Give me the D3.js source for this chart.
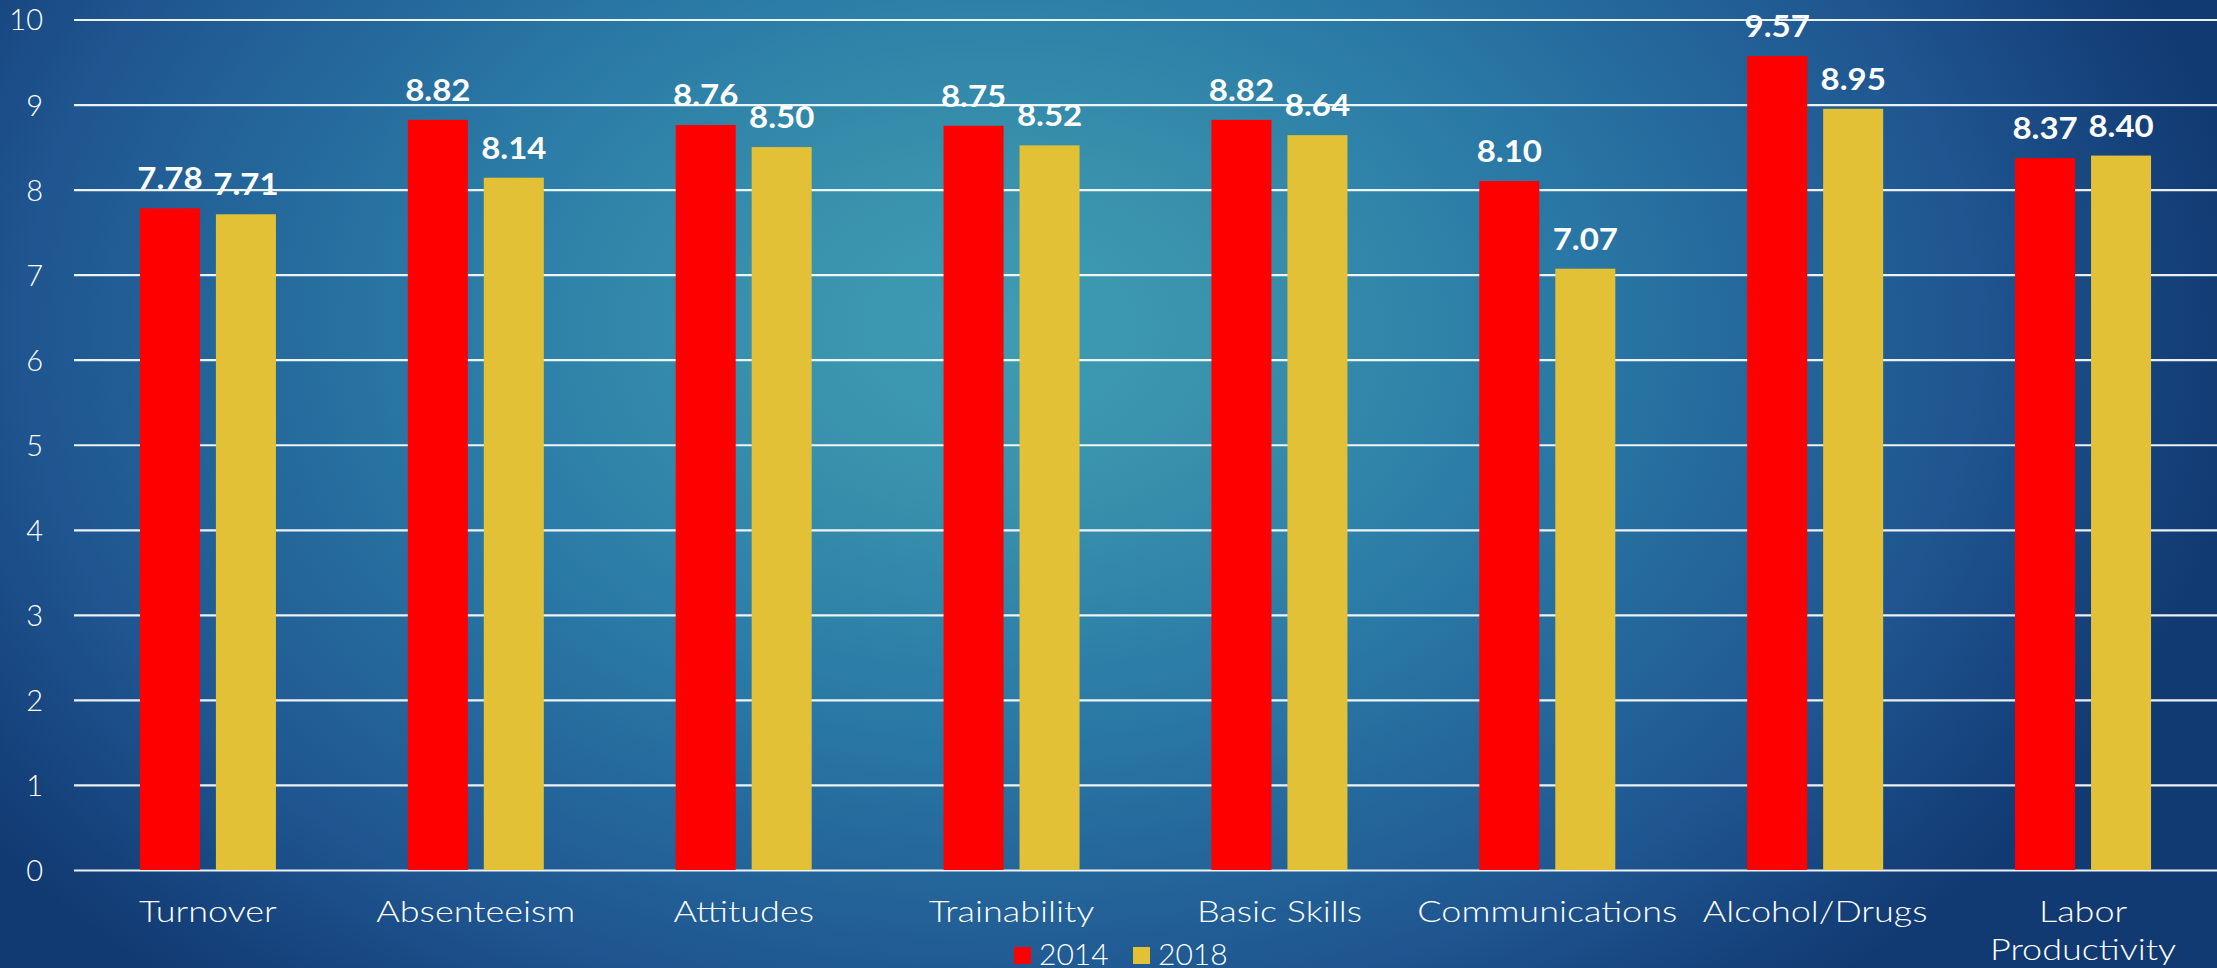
<!DOCTYPE html>
<html>
<head>
<meta charset="utf-8">
<script src="https://cdn.jsdelivr.net/npm/d3@7"></script>
<style>
html,body{margin:0;padding:0;overflow:hidden;background:#15447a;}
svg{display:block;}
</style>
</head>
<body>
<svg id="chart" width="2217" height="968"></svg>
<script>
const categories = ["Turnover","Absenteeism","Attitudes","Trainability","Basic Skills","Communications","Alcohol/Drugs","Labor Productivity"];
const seriesNames = ["2014","2018"];
const values2014 = [7.78, 8.82, 8.76, 8.75, 8.82, 8.10, 9.57, 8.37];
const values2018 = [7.71, 8.14, 8.50, 8.52, 8.64, 7.07, 8.95, 8.40];
const yTicks = [0,1,2,3,4,5,6,7,8,9,10];
const colors = ["#ff0000", "#e3c136"];

const W = 2217, H = 968;
const svg = d3.select("#chart");
const FONT = "Lato, 'Open Sans', sans-serif";

// background gradient
const defs = svg.append("defs");
const cx = 1000, cy = 330;
const rg = defs.append("radialGradient").attr("id","bg")
  .attr("gradientUnits","userSpaceOnUse")
  .attr("cx", cx).attr("cy", cy).attr("r", 1250)
  .attr("gradientTransform",`translate(${cx},${cy}) scale(1,0.7) translate(${-cx},${-cy})`);
[[0,"#3e9cb3"],[0.17,"#3a93ad"],[0.44,"#2a7aa6"],[0.78,"#1f5590"],[0.95,"#143f78"],[1,"#123a72"]]
  .forEach(([o,c])=>rg.append("stop").attr("offset",o).attr("stop-color",c));
svg.append("rect").attr("width",W).attr("height",H).attr("fill","url(#bg)");

const margin = {left:74, right:0, top:19.5, bottom:98};
const x0 = d3.scaleBand().domain(categories).range([margin.left, W - margin.right]).padding(0);
const x1 = d3.scaleBand().domain(seriesNames).range([0, x0.bandwidth()]).paddingInner(0.21).paddingOuter(0.868);
const y = d3.scaleLinear().domain([0,10]).range([H - margin.bottom, margin.top]);

// gridlines
const grid = svg.append("g").attr("transform",`translate(${margin.left},0)`)
  .call(d3.axisLeft(y).tickValues(yTicks).tickSize(-(W - margin.left - margin.right)).tickFormat(""));
grid.select(".domain").remove();
grid.selectAll("line").attr("stroke","#ffffff").attr("stroke-width",2.2).attr("stroke-opacity",0.92);

// y tick labels
const yAxis = svg.append("g").attr("transform",`translate(43,0)`)
  .call(d3.axisLeft(y).tickValues(yTicks).tickSize(0).tickPadding(0));
yAxis.select(".domain").remove();
yAxis.selectAll("text").attr("fill","#ffffff").attr("font-family",FONT).attr("font-size",29).attr("font-weight",300)
  .attr("dy","0.36em");

// bars
const data = categories.map((c,i)=>({cat:c, vals:[{s:"2014",v:values2014[i]},{s:"2018",v:values2018[i]}]}));
const groups = svg.append("g").selectAll("g").data(data).join("g")
  .attr("transform", d=>`translate(${x0(d.cat)},0)`);
groups.selectAll("rect").data(d=>d.vals).join("rect")
  .attr("x", d=>x1(d.s)).attr("width", x1.bandwidth())
  .attr("y", d=>y(d.v)).attr("height", d=>y(0)-y(d.v))
  .attr("fill", (d,i)=>colors[i]);
groups.selectAll("text.val").data(d=>d.vals).join("text").attr("class","val")
  .attr("transform", d=>`translate(${x1(d.s)+x1.bandwidth()/2},${y(d.v)-19}) scale(1.1,1)`)
  .attr("text-anchor","middle").attr("fill","#ffffff")
  .attr("font-family",FONT).attr("font-weight",700).attr("font-size",30)
  .text(d=>d.v.toFixed(2));

// x-axis labels
const xAxis = svg.append("g").attr("transform",`translate(0,${y(0)})`)
  .call(d3.axisBottom(x0).tickSize(0).tickPadding(0));
xAxis.select(".domain").remove();
xAxis.selectAll("text").each(function(d){
  const t = d3.select(this);
  t.text(null).attr("fill","#ffffff").attr("font-family",FONT).attr("font-size",30).attr("font-weight",300)
   .attr("y",0).attr("dy",null).attr("transform","scale(1.2,1)");
  const words = d === "Labor Productivity" ? ["Labor","Productivity"] : [d];
  words.forEach((w,i)=>{
    t.append("tspan").attr("x",0).attr("y", 52 + i*38).text(w);
  });
});

// legend
const legend = svg.append("g");
const legX = [1014, 1133];
seriesNames.forEach((s,i)=>{
  legend.append("rect").attr("x",legX[i]).attr("y",947).attr("width",17).attr("height",17).attr("fill",colors[i]);
  legend.append("text").attr("x",legX[i]+25).attr("y",965).attr("fill","#ffffff")
    .attr("font-family",FONT).attr("font-size",30).attr("font-weight",300).text(s);
});
</script>
</body>
</html>
